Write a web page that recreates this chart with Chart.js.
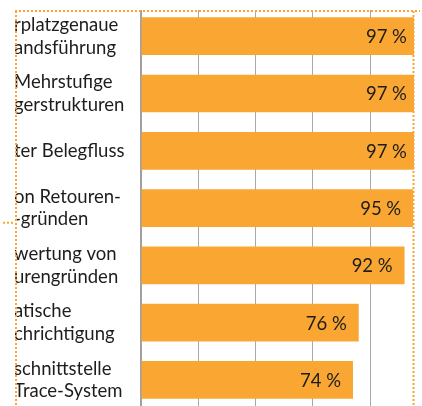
<!DOCTYPE html>
<html>
<head>
<meta charset="utf-8">
<script src="https://cdn.jsdelivr.net/npm/chart.js@4"></script>
<style>
  html, body { margin: 0; padding: 0; background: #fff; overflow: hidden; }
  body { width: 422px; height: 406px; }
</style>
</head>
<body>
<canvas id="chart-funktionen" width="422" height="410"></canvas>
<script>
// Kategorien (links abgeschnitten wie im Original)
const kategorien = [
  ["rplatzgenaue", "andsführung"],
  ["Mehrstufige", "gerstrukturen"],
  ["ter Belegfluss"],
  ["on Retouren-", "-gründen"],
  ["wertung von", "urengründen"],
  ["atische", "chrichtigung"],
  ["schnittstelle", "Trace-System"],
];
const werte = [97, 97, 97, 95, 92, 76, 74];
const gitterSchritt = 20;

const orange = "rgb(250,166,51)";
const schrift = '"Lato", "Open Sans", sans-serif';

const funktionen = document.getElementById("chart-funktionen");

// Rahmen (gepunktet) + weisse Maske links/oben
const rahmen = {
  id: "rahmen",
  beforeDatasetsDraw(chart) {
    const ctx = chart.ctx;
    ctx.save();
    ctx.fillStyle = "#fff";
    ctx.fillRect(0, 0, 15, chart.height);
    ctx.fillRect(0, 0, chart.width, 10);
    ctx.strokeStyle = orange;
    ctx.lineWidth = 2;
    ctx.setLineDash([2, 2]);
    ctx.beginPath();
    ctx.moveTo(15, 11); ctx.lineTo(420, 11);
    ctx.moveTo(16, 11); ctx.lineTo(16, chart.height);
    ctx.moveTo(413.5, 11); ctx.lineTo(413.5, chart.height);
    ctx.moveTo(3, 222.7); ctx.lineTo(15, 222.7);
    ctx.stroke();
    ctx.restore();
  },
};

// Prozentwerte in den Balken
const wertLabels = {
  id: "wertLabels",
  afterDatasetsDraw(chart) {
    const ctx = chart.ctx;
    const meta = chart.getDatasetMeta(0);
    ctx.save();
    ctx.font = "18.5px " + schrift;
    ctx.fillStyle = "#1d1d1b";
    ctx.textAlign = "right";
    ctx.textBaseline = "middle";
    meta.data.forEach((bar, i) => {
      ctx.fillText(werte[i] + "\u202F%", bar.x - 12, bar.y + 1);
    });
    ctx.restore();
  },
};

new Chart(funktionen, {
  type: "bar",
  data: {
    labels: kategorien,
    datasets: [
      {
        data: werte,
        backgroundColor: orange,
        borderWidth: 0,
        barPercentage: 0.658,
        categoryPercentage: 1,
      },
    ],
  },
  options: {
    indexAxis: "y",
    responsive: false,
    animation: false,
    layout: { padding: { left: 14, top: 7.55, right: 8, bottom: 1.4 } },
    plugins: {
      legend: { display: false },
      tooltip: { enabled: false },
    },
    scales: {
      x: {
        min: 0,
        max: 95.3,
        grid: { color: "#a9a9a9", lineWidth: 1, drawTicks: false },
        border: { display: false },
        ticks: { display: false, stepSize: gitterSchritt, includeBounds: false },
      },
      y: {
        grid: { display: false },
        border: { display: true, color: "#a0a0a0", width: 2 },
        ticks: {
          autoSkip: false,
          crossAlign: "far",
          color: "#1d1d1b",
          font: { family: schrift, size: 18.5, lineHeight: 1.227 },
        },
        afterFit(scale) {
          scale.width = 127;
          scale.paddingTop = 0;
          scale.paddingBottom = 0;
        },
      },
    },
  },
  plugins: [rahmen, wertLabels],
});
</script>
</body>
</html>
